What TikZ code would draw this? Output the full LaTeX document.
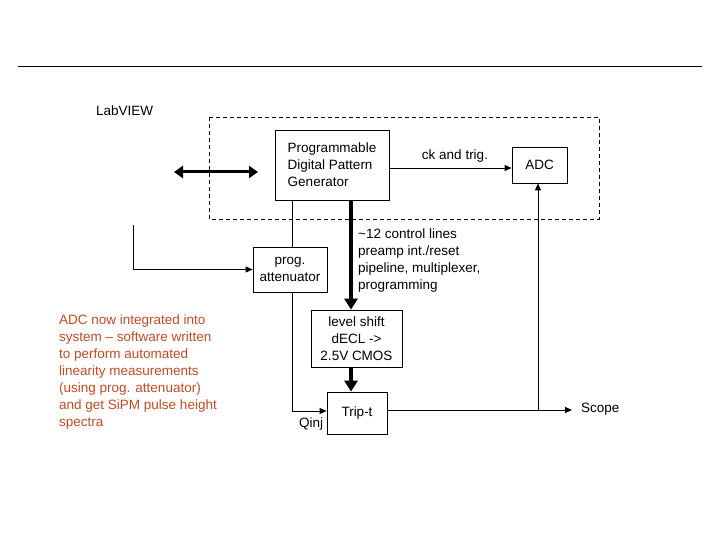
\documentclass[tikz,border=0pt]{standalone}
\usepackage{fontspec}
\setmainfont{Liberation Sans}
\usetikzlibrary{arrows.meta}
\definecolor{rust}{RGB}{190,75,35}
\begin{document}
\begin{tikzpicture}[x=1pt,y=-1pt,
  box/.style={draw,line width=0.8pt,inner sep=0pt,align=center,font=\fontsize{13.5}{17}\selectfont},
  lbl/.style={font=\fontsize{13.5}{17}\selectfont,inner sep=0pt},
  thin/.style={line width=0.8pt},
  thick/.style={line width=3.5pt,-{Triangle[length=11pt,width=13pt]}},
  ar/.style={line width=0.8pt,-{Triangle[length=7pt,width=6pt]}}]
\useasboundingbox (0,0) rectangle (720,540);
\draw[thin] (18,66) -- (702,66);
\node[lbl,anchor=west] (lv) at (96,111) {LabVIEW};
\draw[thin,dashed,dash pattern=on 4pt off 3pt] (209,117) rectangle (599,219);
\node[box,minimum width=114,minimum height=70,align=left] (pdg) at (332,165) {Programmable\\Digital Pattern\\Generator};
\node[box,minimum width=55,minimum height=36] (adc) at (539.5,165) {ADC};
\node[box,minimum width=74,minimum height=45] (att) at (290,269.5) {prog.\\attenuator};
\node[box,minimum width=91,minimum height=57] (ls) at (356.5,338.5) {level shift\\dECL ->\\2.5V CMOS};
\node[box,minimum width=60,minimum height=42] (trip) at (357,413) {Trip-t};
\coordinate (dl) at (174,172);
\coordinate (dr) at (258,172);
\draw[line width=3pt,{Triangle[length=9pt,width=12pt]}-{Triangle[length=9pt,width=12pt]}] (dl) -- (dr);
\draw[ar] (pdg.east |- 0,168) -- (adc.west |- 0,168);
\node[lbl] (ck) at (455,156) {ck and trig.};
\coordinate (lvl) at (133,225);
\draw[ar] (lvl) |- (att.west);
\draw[thin] (292,200) -- (292,247);
\coordinate (qc) at (292,411);
\draw[ar] (292,292) -- (qc) -- (trip.west |- qc);
\node[lbl,anchor=north] (q) at (311,418) {Qinj};
\draw[thick] (351,200) -- (ls.north -| 351,0);
\draw[thick] (351,367) -- (trip.north -| 351,0);
\node[lbl,align=left,anchor=north west] (ctl) at (358,229) {\textasciitilde12 control lines\\preamp int./reset\\pipeline, multiplexer,\\programming};
\coordinate (sc) at (572,410);
\coordinate (br) at (538,410);
\draw[ar] (trip.east |- sc) -- (sc);
\draw[ar] (br) -- (adc.south -| br);
\node[lbl,anchor=west] (scope) at (581,409) {Scope};
\node[lbl,align=left,anchor=north west,text=rust] (note) at (59,315) {ADC now integrated into\\system -- software written\\to perform automated\\linearity measurements\\(using prog. attenuator)\\and get SiPM pulse height\\spectra};
\end{tikzpicture}
\end{document}
